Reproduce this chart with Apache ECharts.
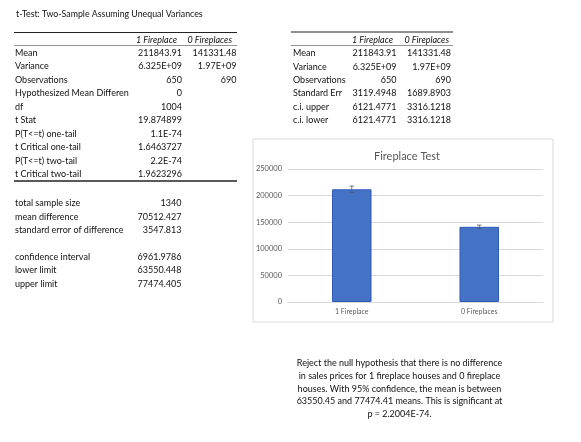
<!DOCTYPE html>
<html>
<head>
<meta charset="utf-8">
<script src="https://cdn.jsdelivr.net/npm/echarts@6/dist/echarts.min.js"></script>
<style>
  html, body { margin: 0; padding: 0; background: #fff; }
  #main { width: 581px; height: 442px; }
</style>
</head>
<body>
<div id="main"></div>
<script>
let dom = document.getElementById('main')
let myChart = echarts.init(dom)

// chart data
const categories = ['1 Fireplace', '0 Fireplaces']
const means = [211843.91, 141331.48]
const ciHalf = [6121.4771, 3316.1218]

// t-test table
const headers = ['1 Fireplace', '0 Fireplaces']
const statLabels = ['Mean', 'Variance', 'Observations', 'Hypothesized Mean Differen', 'df', 't Stat',
  'P(T<=t) one-tail', 't Critical one-tail', 'P(T<=t) two-tail', 't Critical two-tail']
const statCol1 = ['211843.91', '6.325E+09', '650', '0', '1004', '19.874899', '1.1E-74', '1.6463727', '2.2E-74', '1.9623296']
const statCol2 = ['141331.48', '1.97E+09', '690', '', '', '', '', '', '', '']

// extra calculations
const extraLabels = ['total sample size', 'mean difference', 'standard error of difference', '',
  'confidence interval', 'lower limit', 'upper limit']
const extraValues = ['1340', '70512.427', '3547.813', '', '6961.9786', '63550.448', '77474.405']

// summary table
const sumLabels = ['Mean', 'Variance', 'Observations', 'Standard Err', 'c.i. upper', 'c.i. lower']
const sumCol1 = ['211843.91', '6.325E+09', '650', '3119.4948', '6121.4771', '6121.4771']
const sumCol2 = ['141331.48', '1.97E+09', '690', '1689.8903', '3316.1218', '3316.1218']

const noteLines = [
  'Reject the null hypothesis that there is no difference',
  'in sales prices for 1 fireplace houses and 0 fireplace',
  'houses. With 95% confidence, the mean is between',
  '63550.45 and 77474.41 means. This is significant at',
  'p = 2.2004E-74.'
]

const FONT = 'Lato, "Open Sans", sans-serif'
const txtColor = '#111'

let txt = function (text, x, y, align, opts) {
  opts = opts || {}
  return {
    type: 'text', x: x, y: y, silent: true,
    style: {
      text: text, fill: opts.fill || txtColor,
      font: (opts.italic ? 'italic ' : '') + (opts.size || 9) + 'px ' + FONT,
      align: align, verticalAlign: 'middle'
    }
  }
}
let hline = function (x1, x2, y, w, c) {
  return {
    type: 'line', silent: true,
    shape: { x1: x1, y1: y, x2: x2, y2: y },
    style: { stroke: c, lineWidth: w }
  }
}

let graphics = []
graphics.push(txt('t-Test: Two-Sample Assuming Unequal Variances', 16, 14, 'left', { size: 8.8 }))

// left table
graphics.push(hline(14, 237, 32.5, 1, '#222'))
graphics.push(txt(headers[0], 177, 40, 'right', { italic: true }))
graphics.push(txt(headers[1], 232, 40, 'right', { italic: true }))
graphics.push(hline(14, 237, 45.5, 0.8, '#777'))
statLabels.forEach(function (lab, i) {
  let y = 53 + i * 13.5
  graphics.push(txt(lab, 15, y, 'left'))
  graphics.push(txt(statCol1[i], 182, y, 'right'))
  if (statCol2[i]) graphics.push(txt(statCol2[i], 236.5, y, 'right'))
})
graphics.push(hline(14, 237, 181, 1.6, '#222'))

extraLabels.forEach(function (lab, i) {
  if (!lab) return
  let y = 203.3 + i * 13.4
  graphics.push(txt(lab, 15, y, 'left'))
  graphics.push(txt(extraValues[i], 181.5, y, 'right'))
})

// right table
graphics.push(hline(291, 453, 32, 1, '#222'))
graphics.push(txt(headers[0], 393, 40, 'right', { italic: true }))
graphics.push(txt(headers[1], 449, 40, 'right', { italic: true }))
graphics.push(hline(291, 453, 45.5, 0.8, '#777'))
sumLabels.forEach(function (lab, i) {
  let y = 53.3 + i * 13.4
  graphics.push(txt(lab, 293, y, 'left'))
  graphics.push(txt(sumCol1[i], 396.5, y, 'right'))
  graphics.push(txt(sumCol2[i], 451, y, 'right'))
})

// chart frame
graphics.push({
  type: 'rect', silent: true, z: -1,
  shape: { x: 253, y: 139, width: 300, height: 183 },
  style: { fill: '#fff', stroke: '#d9d9d9', lineWidth: 1 }
})

// note
noteLines.forEach(function (line, i) {
  graphics.push(txt(line, 399.5, 363.3 + i * 12.75, 'center'))
})

let option = {
  animation: false,
  title: {
    text: 'Fireplace Test',
    left: 402, top: 146, textAlign: 'center',
    textStyle: { fontFamily: FONT, fontSize: 11, fontWeight: 'normal', color: '#595959' }
  },
  grid: { left: 288, right: 38, top: 169, bottom: 140 },
  xAxis: {
    type: 'category',
    data: categories,
    axisLine: { lineStyle: { color: '#d9d9d9' } },
    axisTick: { show: false },
    axisLabel: { color: '#595959', fontSize: 7, fontFamily: FONT, margin: 6 }
  },
  yAxis: {
    type: 'value',
    min: 0, max: 250000, interval: 50000,
    axisLine: { show: false },
    axisTick: { show: false },
    splitLine: { lineStyle: { color: '#d9d9d9' } },
    axisLabel: {
      color: '#595959', fontSize: 7.5, fontFamily: FONT, margin: 6,
      formatter: function (v) { return String(v) }
    }
  },
  series: [
    {
      type: 'bar',
      data: means,
      barWidth: '31%',
      itemStyle: { color: '#4472C4', borderColor: '#2f5bb7', borderWidth: 1 }
    },
    {
      type: 'custom',
      z: 5,
      data: means.map(function (m, i) { return [i, m - ciHalf[i], m + ciHalf[i]] }),
      renderItem: function (params, api) {
        let lo = api.coord([api.value(0), api.value(1)])
        let hi = api.coord([api.value(0), api.value(2)])
        let x = lo[0], hw = 2.2
        let st = { stroke: '#595959', lineWidth: 0.8 }
        return {
          type: 'group',
          children: [
            { type: 'line', shape: { x1: x, y1: lo[1], x2: x, y2: hi[1] }, style: st },
            { type: 'line', shape: { x1: x - hw, y1: lo[1], x2: x + hw, y2: lo[1] }, style: st },
            { type: 'line', shape: { x1: x - hw, y1: hi[1], x2: x + hw, y2: hi[1] }, style: st }
          ]
        }
      }
    }
  ],
  graphic: graphics
}

myChart.setOption(option, true)

window.addEventListener('resize', function () {
  myChart.resize()
})
</script>
</body>
</html>
